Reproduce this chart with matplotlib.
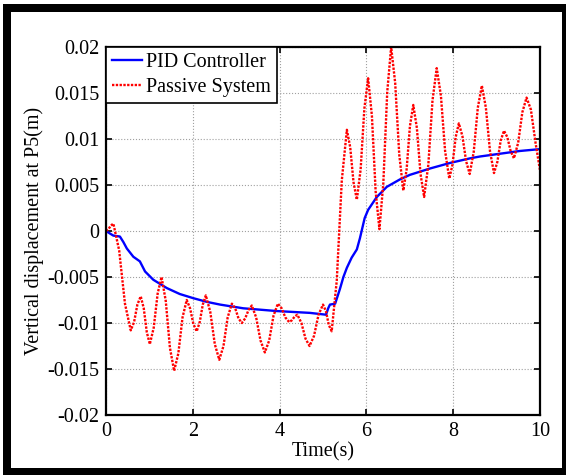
import matplotlib
matplotlib.use('Agg')
import matplotlib.pyplot as plt
from matplotlib.patches import Rectangle

plt.rcParams['font.family'] = ['Liberation Serif', 'DejaVu Serif']
plt.rcParams['font.size'] = 14.5

# PID controlled response at P5
t_pid = [0.00, 0.10, 0.17, 0.32, 0.40, 0.48, 0.63, 0.78, 0.90, 1.09, 1.40, 1.70,
         2.01, 2.32, 2.63, 3.16, 3.93, 4.70, 5.07, 5.12, 5.16, 5.28, 5.39, 5.47,
         5.55, 5.66, 5.78, 5.85, 5.89, 5.96, 6.04, 6.24, 6.47, 6.77, 7.00, 7.47,
         7.93, 8.39, 8.62, 9.08, 9.54, 10.0]
y_pid = [0.0000, -0.0003, -0.0005, -0.0006, -0.0012, -0.0019, -0.0028, -0.0033,
         -0.0044, -0.0053, -0.0062, -0.00685, -0.0073, -0.0077, -0.0080, -0.0084,
         -0.0087, -0.0089, -0.0091, -0.0084, -0.0080, -0.0079, -0.0063, -0.0050,
         -0.0040, -0.0029, -0.0020, -0.0008, 0.0000, 0.0014, 0.0023, 0.0037,
         0.0048, 0.0056, 0.0061, 0.0068, 0.0074, 0.0079, 0.0081, 0.0084, 0.0087,
         0.0089]

# passive system response at P5
t_pas = [0.000, 0.057, 0.113, 0.17, 0.303, 0.437, 0.57, 0.647, 0.723, 0.80,
         0.87, 0.94, 1.01, 1.10, 1.19, 1.28, 1.377, 1.473, 1.57, 1.667, 1.763,
         1.86, 1.937, 2.013, 2.09, 2.16, 2.23, 2.30, 2.403, 2.507, 2.61, 2.707,
         2.803, 2.90, 2.977, 3.053, 3.13, 3.207, 3.283, 3.36, 3.46, 3.56, 3.66,
         3.76, 3.86, 3.96, 4.047, 4.133, 4.22, 4.283, 4.347, 4.41, 4.503, 4.597,
         4.69, 4.793, 4.897, 5.00, 5.067, 5.133, 5.20, 5.317, 5.433, 5.55, 5.627,
         5.703, 5.78, 5.867, 5.953, 6.04, 6.127, 6.213, 6.30, 6.39, 6.48, 6.57,
         6.663, 6.757, 6.85, 6.927, 7.003, 7.08, 7.163, 7.247, 7.33, 7.427, 7.523,
         7.62, 7.717, 7.813, 7.91, 7.983, 8.057, 8.13, 8.213, 8.297, 8.38, 8.473,
         8.567, 8.66, 8.753, 8.847, 8.94, 9.017, 9.093, 9.17, 9.247, 9.323, 9.40,
         9.497, 9.593, 9.69, 9.79, 9.90, 10.0]
y_pas = [0.0000, 0.0002, 0.0006, 0.0008, -0.0021, -0.0079, -0.0108, -0.0099,
         -0.0080, -0.0071, -0.0084, -0.0110, -0.0123, -0.0105, -0.0068, -0.0050,
         -0.0076, -0.0127, -0.0152, -0.0133, -0.0094, -0.0075, -0.0084, -0.0101,
         -0.0109, -0.0099, -0.0080, -0.0070, -0.0088, -0.0123, -0.0140, -0.0125,
         -0.0094, -0.0079, -0.0084, -0.0095, -0.0100, -0.0095, -0.0086, -0.0081,
         -0.0094, -0.0119, -0.0132, -0.0119, -0.0092, -0.0079, -0.0084, -0.0094,
         -0.0099, -0.0097, -0.0093, -0.0091, -0.0100, -0.0117, -0.0125, -0.0114,
         -0.0091, -0.0080, -0.0087, -0.0102, -0.0109, -0.0054, 0.0055, 0.0110,
         0.0091, 0.0053, 0.0034, 0.0067, 0.0133, 0.0166, 0.0125, 0.0043, 0.0002,
         0.0052, 0.0151, 0.0200, 0.0161, 0.0083, 0.0044, 0.0067, 0.0114, 0.0137,
         0.0112, 0.0062, 0.0037, 0.0072, 0.0142, 0.0177, 0.0147, 0.0087, 0.0057,
         0.0072, 0.0102, 0.0117, 0.0103, 0.0076, 0.0062, 0.0086, 0.0134, 0.0158,
         0.0134, 0.0087, 0.0063, 0.0075, 0.0098, 0.0109, 0.0102, 0.0087, 0.0079,
         0.0096, 0.0129, 0.0145, 0.0132, 0.0095, 0.0066]

xticks = [0, 2, 4, 6, 8, 10]
yticks = [-0.02, -0.015, -0.01, -0.005, 0, 0.005, 0.01, 0.015, 0.02]
yticklabels = ['-0.02', '-0.015', '-0.01', '-0.005', '0', '0.005', '0.01', '0.015', '0.02']

fig = plt.figure(figsize=(5.66, 4.75), dpi=100)
fig.patch.set_facecolor('white')

# black frame round the figure, kept behind the axes
fig.patches.append(Rectangle((3/566, 0), 563/566, 471/475, transform=fig.transFigure,
                             facecolor='black', edgecolor='none', zorder=-2))
fig.patches.append(Rectangle((11/566, 7/475), 551/566, 456/475, transform=fig.transFigure,
                             facecolor='white', edgecolor='none', zorder=-1))

ax = fig.add_axes([106/566, 60/475, 434/566, 368/475])
ax.plot(t_pid, y_pid, color='#0000ff', lw=1.7, label='PID Controller')
ax.plot(t_pas, y_pas, color='#ff0000', lw=1.7, ls=(0, (1, 0.6)),
        solid_joinstyle='round', label='Passive System')

ax.set_xlim(0, 10)
ax.set_ylim(-0.02, 0.02)
ax.set_xticks(xticks)
ax.set_xticklabels([str(v) for v in xticks])
ax.set_yticks(yticks)
ax.set_yticklabels(yticklabels)
ax.tick_params(direction='in', top=True, right=True, length=4, width=1.2, pad=5)
for s in ax.spines.values():
    s.set_linewidth(1.6)
ax.grid(True, ls=':', color='#a0a0a0', lw=0.8)

ax.set_xlabel('Time(s)', labelpad=1)
ax.set_ylabel('Vertical displacement at P5(m)', labelpad=2)

leg = ax.legend(loc='upper left', borderaxespad=0, fancybox=False, framealpha=1,
                handlelength=1.5, handletextpad=0.2, labelspacing=0.3, borderpad=0.3)
leg.get_frame().set_edgecolor('black')
leg.get_frame().set_linewidth(1.2)

fig.savefig('out.png', dpi=100)
